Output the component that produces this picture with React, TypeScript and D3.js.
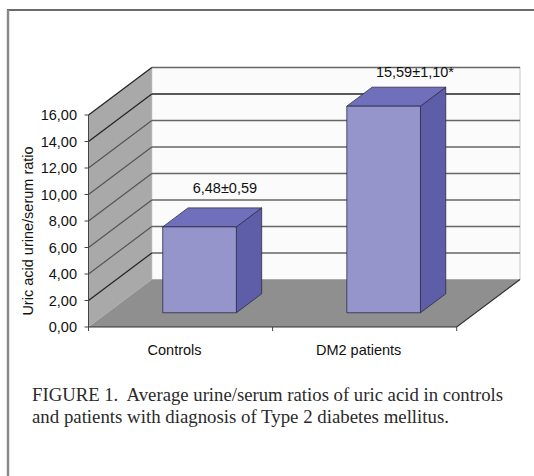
import React from "react";
import * as d3 from "d3";

const categories = ["Controls", "DM2 patients"];
const values = [6.48, 15.59];
const valueLabels = ["6,48±0,59", "15,59±1,10*"];
const yTicks = [0, 2, 4, 6, 8, 10, 12, 14, 16];
const yTitle = "Uric acid urine/serum ratio";
const captionLines = [
  "FIGURE 1.  Average urine/serum ratios of uric acid in controls",
  "and patients with diagnosis of Type 2 diabetes mellitus.",
];
const captionWidths = [471, 417];

const W = 534;
const H = 476;
const X0 = 88.5;
const X1 = 456.7;
const DX = 63.3;
const DY = -47.5;
const F0 = 0.3;
const F1 = 0.7;

export default function App() {
  const y = d3.scaleLinear().domain([0, 16]).range([327, 115]);
  const x = d3.scaleBand<string>().domain(categories).range([X0, X1]).padding(0);
  const fmt = (v: number) => v.toFixed(2).replace(".", ",");
  const font = "Liberation Sans, Arial, sans-serif";
  const bw = x.bandwidth() * 0.4;
  const ddx = DX * (F1 - F0);
  const ddy = DY * (F1 - F0);
  const pts = (a: number[][]) => a.map((p) => p.join(",")).join(" ");

  return (
    <svg
      width={W}
      height={H}
      style={{ position: "absolute", left: 0, top: 0, background: "#fff" }}
    >
      {/* frame */}
      <line x1={7} x2={W} y1={10} y2={10} stroke="#3a3a3a" strokeWidth={1.5} />
      <line x1={8} x2={8} y1={10} y2={H} stroke="#8a8a8a" strokeWidth={2.5} />

      {/* back wall */}
      <rect
        x={X0 + DX}
        y={y(16) + DY}
        width={X1 - X0}
        height={y(0) - y(16)}
        fill="#fbfbfb"
        stroke="#c8c8c8"
        strokeWidth={1}
      />
      {/* left wall */}
      <polygon
        points={pts([
          [X0, y(0)],
          [X0, y(16)],
          [X0 + DX, y(16) + DY],
          [X0 + DX, y(0) + DY],
        ])}
        fill="#a9a9a9"
      />
      {/* gridlines */}
      {yTicks
        .filter((t) => t > 0)
        .map((t) => (
          <g key={"g" + t}>
            <line
              x1={X0 + DX}
              x2={X1 + DX}
              y1={y(t) + DY}
              y2={y(t) + DY}
              stroke={t === 14 ? "#222" : "#666"}
              strokeWidth={1.6}
            />
            <line
              x1={X0}
              x2={X0 + DX}
              y1={y(t)}
              y2={y(t) + DY}
              stroke={t === 14 || t === 2 || t === 16 ? "#222" : "#555"}
              strokeWidth={1.2}
            />
          </g>
        ))}
      {/* floor */}
      <polygon
        points={pts([
          [X0, y(0)],
          [X1, y(0)],
          [X1 + DX, y(0) + DY],
          [X0 + DX, y(0) + DY],
        ])}
        fill="#8f8f8f"
      />
      <polyline
        points={pts([
          [X0, y(0)],
          [X1, y(0)],
          [X1 + DX, y(0) + DY],
        ])}
        fill="none"
        stroke="#333"
        strokeWidth={1.2}
      />
      {/* y axis */}
      <line x1={X0} x2={X0} y1={y(0)} y2={y(16)} stroke="#444" strokeWidth={1} />
      {yTicks.map((t) => (
        <g key={"t" + t}>
          <line x1={X0 - 4} x2={X0} y1={y(t)} y2={y(t)} stroke="#444" />
          <text
            x={77}
            y={y(t)}
            dy="0.35em"
            textAnchor="end"
            fontFamily={font}
            fontSize={14.5}
            fill="#111"
          >
            {fmt(t)}
          </text>
        </g>
      ))}
      {/* category ticks */}
      {[X0, ...categories.map((c) => (x(c) as number) + x.bandwidth())].map((px, i) => (
        <line key={"c" + i} x1={px} x2={px} y1={y(0)} y2={y(0) + 4} stroke="#444" />
      ))}
      {/* bars */}
      {categories.map((c, i) => {
        const cx = (x(c) as number) + x.bandwidth() / 2;
        const left = cx - bw / 2 + DX * F0;
        const right = left + bw;
        const bottom = y(0) + DY * F0;
        const top = y(values[i]) + DY * F0;
        return (
          <g key={c} stroke="#2b2b45" strokeWidth={0.8} strokeLinejoin="round">
            <polygon
              points={pts([
                [right, top],
                [right + ddx, top + ddy],
                [right + ddx, bottom + ddy],
                [right, bottom],
              ])}
              fill="#5d5da8"
            />
            <polygon
              points={pts([
                [left, top],
                [right, top],
                [right + ddx, top + ddy],
                [left + ddx, top + ddy],
              ])}
              fill="#6f6fbb"
            />
            <rect x={left} y={top} width={bw} height={bottom - top} fill="#9595cc" />
          </g>
        );
      })}
      {/* value labels */}
      {categories.map((c, i) => {
        const cx = (x(c) as number) + x.bandwidth() / 2;
        return (
          <text
            key={"v" + c}
            x={cx + DX * F1 + (i === 1 ? 6 : 0)}
            y={y(values[i]) + DY * F1 - (i === 1 ? 10 : 15)}
            textAnchor="middle"
            fontFamily={font}
            fontSize={14.5}
            fill="#111"
          >
            {valueLabels[i]}
          </text>
        );
      })}
      {/* category labels */}
      {categories.map((c) => (
        <text
          key={"l" + c}
          x={(x(c) as number) + x.bandwidth() / 2 - 6}
          y={355}
          textAnchor="middle"
          fontFamily={font}
          fontSize={14.5}
          fill="#111"
        >
          {c}
        </text>
      ))}
      {/* y title */}
      <text
        transform={`translate(33,${(y(0) + y(16)) / 2 + 10}) rotate(-90)`}
        textAnchor="middle"
        fontFamily={font}
        fontSize={14.5}
        fill="#111"
      >
        {yTitle}
      </text>
      {/* caption */}
      {captionLines.map((l, i) => (
        <text
          key={"cap" + i}
          x={32}
          y={401 + i * 21.5}
          fontFamily="Liberation Serif, Times New Roman, serif"
          fontSize={18}
          fill="#2a2a2a"
          textLength={captionWidths[i]}
          lengthAdjust="spacingAndGlyphs"
          style={{ whiteSpace: "pre" }}
        >
          {l}
        </text>
      ))}
    </svg>
  );
}
